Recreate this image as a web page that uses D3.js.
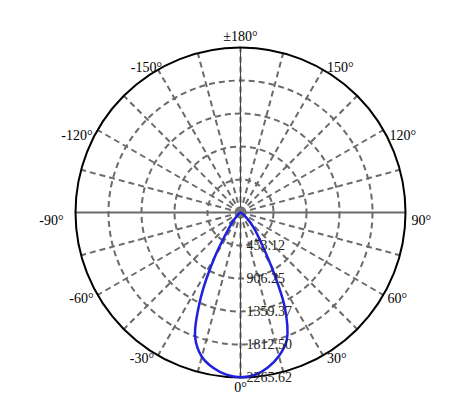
<!DOCTYPE html>
<html>
<head>
<meta charset="utf-8">
<script src="https://cdn.jsdelivr.net/npm/d3@7"></script>
<style>
  body { margin: 0; background: #fff; }
  svg text { font-family: "Liberation Serif", "DejaVu Serif", serif; }
</style>
</head>
<body>
<div id="chart"></div>
<script>
// luminous intensity (cd) against angle (deg, 0 = straight down, + to the right)
const angles = [-90, -80, -70, -60, -55, -50, -45, -40, -35, -30, -25, -20, -15, -10, -5,
                0, 5, 10, 15, 20, 25, 30, 35, 40, 45, 50, 55, 60, 70, 80, 90];
const intensity = [0, 4, 8, 20, 32, 50, 90, 170, 320, 710, 1290, 1820, 2050, 2165, 2235,
                   2262, 2240, 2160, 2040, 1860, 1440, 830, 470, 300, 180, 90, 50, 25, 10, 5, 0];

const ringValues = [453.12, 906.25, 1359.37, 1812.50, 2265.62];
const spokeAngles = d3.range(-165, 195, 15);
const angleTicks = [0, 30, 60, 90, 120, 150, 180, -150, -120, -90, -60, -30];

const width = 470, height = 415;
const cx = 240.5, cy = 212.5, R = 165;

const svg = d3.select("#chart").append("svg")
    .attr("width", width)
    .attr("height", height);

const g = svg.append("g").attr("transform", `translate(${cx},${cy})`);

const r = d3.scaleLinear().domain([0, d3.max(ringValues)]).range([0, R]);
const rad = a => a * Math.PI / 180;

// dashed rings
g.selectAll("circle.ring")
    .data(ringValues.slice(0, -1))
    .join("circle")
    .attr("class", "ring")
    .attr("r", d => r(d))
    .attr("fill", "none")
    .attr("stroke", "#6b6b6b")
    .attr("stroke-width", 2)
    .attr("stroke-dasharray", "6,4");

// spokes every 15 deg
g.selectAll("line.spoke")
    .data(spokeAngles)
    .join("line")
    .attr("class", "spoke")
    .attr("x1", 0).attr("y1", 0)
    .attr("x2", d => R * Math.sin(rad(d)))
    .attr("y2", d => R * Math.cos(rad(d)))
    .attr("stroke", "#6b6b6b")
    .attr("stroke-width", 2)
    .attr("stroke-dasharray", d => Math.abs(d) === 90 ? null : "6,4");

// thin centre line
g.append("line")
    .attr("x1", 0).attr("y1", -R)
    .attr("x2", 0).attr("y2", R)
    .attr("stroke", "#444")
    .attr("stroke-width", 1);

g.append("circle")
    .attr("r", 5)
    .attr("fill", "#777");

// outer circle
g.append("circle")
    .attr("r", R)
    .attr("fill", "none")
    .attr("stroke", "#000")
    .attr("stroke-width", 2);

// intensity curve
const line = d3.lineRadial()
    .angle((d, i) => Math.PI - rad(angles[i]))
    .radius(d => r(d))
    .curve(d3.curveCatmullRom);

g.append("path")
    .datum(intensity)
    .attr("d", line)
    .attr("fill", "none")
    .attr("stroke", "#2020dd")
    .attr("stroke-width", 2.5)
    .attr("stroke-linejoin", "round");

// ring value labels
g.selectAll("text.rlab")
    .data(ringValues)
    .join("text")
    .attr("class", "rlab")
    .attr("x", 6)
    .attr("y", d => r(d))
    .attr("dy", "0.35em")
    .attr("font-size", 14)
    .attr("fill", "#222")
    .text(d => d.toFixed(2));

// angle labels
function labelPos(a) {
    const px = R * Math.sin(rad(a)), py = R * Math.cos(rad(a));
    if (a === 0) return [0, py + 10, "middle"];
    if (a === 180) return [0, py - 11, "middle"];
    const abs = Math.abs(a);
    const dy = abs === 150 ? -3 : abs === 120 ? 5.5 : abs === 90 ? 7.5 : 3;
    if (a > 0) return [px + (abs === 90 || abs === 120 ? 6 : 4), py + dy, "start"];
    const gap = abs === 90 ? 12 : abs === 150 ? -4 : abs === 120 ? 5 : 4;
    return [px - gap, py + dy, "end"];
}

g.selectAll("text.alab")
    .data(angleTicks)
    .join("text")
    .attr("class", "alab")
    .each(function (d) {
        const [x, y, anchor] = labelPos(d);
        d3.select(this)
            .attr("x", x)
            .attr("y", y)
            .attr("text-anchor", anchor);
    })
    .attr("dy", "0.35em")
    .attr("font-size", 14)
    .attr("fill", "#000")
    .text(d => d === 180 ? "±180°" : d + "°");
</script>
</body>
</html>
